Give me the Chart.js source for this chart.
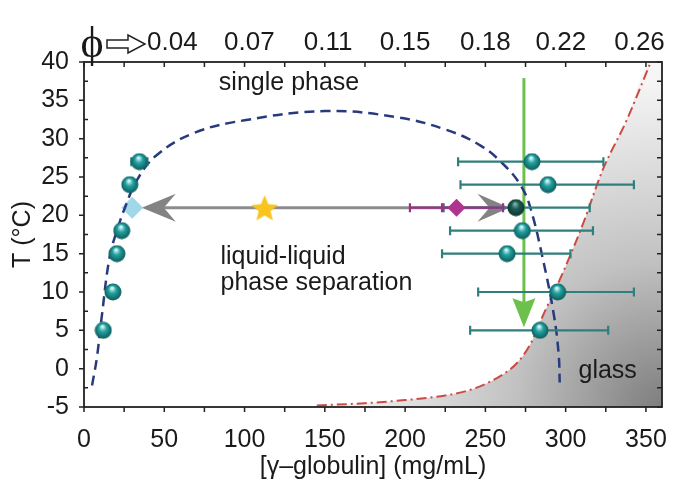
<!DOCTYPE html>
<html>
<head>
<meta charset="utf-8">
<script src="https://cdn.jsdelivr.net/npm/chart.js@4.4.1/dist/chart.umd.min.js"></script>
<style>
  html, body { margin: 0; padding: 0; background: #fff; }
</style>
</head>
<body>
<canvas id="phaseChart" width="673" height="491"></canvas>
<script>
// axis ranges and tick labels
const xMin = 0, xMax = 360;
const yMin = -5, yMax = 40;
const xTickValues = [0, 50, 100, 150, 200, 250, 300, 350];
const yTickValues = [-5, 0, 5, 10, 15, 20, 25, 30, 35, 40];
const phiLabels = ['0.04', '0.07', '0.11', '0.15', '0.18', '0.22', '0.26'];
const phiConc = [55, 103, 152, 200, 250, 297, 346];

// binodal (dashed blue curve)
const binodalConc = [5, 8, 11, 16, 21, 25.5, 33, 45, 68, 100, 150, 195, 225, 247, 262, 272, 278, 286, 292.5, 295.6, 296.3];
const binodalTemp = [-2.2, 1.4, 6.7, 14.6, 18.3, 21, 24.6, 27.8, 30.7, 32.4, 33.6, 32.8, 31.2, 29.1, 26.5, 23.9, 21, 14.1, 7.2, 2, -1.8];

// glass boundary (red dash-dot curve)
const glassConc = [145, 175, 200, 225, 240, 252, 262, 270, 278, 286, 298, 311, 323, 338, 353];
const glassTemp = [-4.8, -4.5, -4.1, -3.5, -2.8, -1.8, -0.6, 0.8, 3.2, 7, 12.4, 19, 25.9, 32.4, 40];

// dilute branch
const leftConc = [12, 18, 20.5, 23.5, 28.5, 34.5];
const leftTemp = [5, 10, 15, 18, 24, 27];
const leftErrLo = [null, null, null, null, null, 29.5];
const leftErrHi = [null, null, null, null, null, 39.5];

// dense branch
const rightConc = [279, 289, 269, 273, 263.5, 295, 284];
const rightTemp = [27, 24, 21, 18, 15, 10, 5];
const rightErrLo = [233, 234.5, 224, 228, 223, 245.5, 240.5];
const rightErrHi = [323.5, 342.5, 315, 317, 303, 342.5, 326.5];
const rightDark = [false, false, true, false, false, false, false];

// quench at 21 °C
const dilutePhaseConc = [30];
const dilutePhaseTemp = [21];
const starConc = [112.5];
const starTemp = [21];
const magentaConc = [232];
const magentaTemp = [21];
const magentaCaps = [[203, 223, 261]];
const grayArrowConc = [36, 265];
const grayArrowTemp = 21;
const greenArrowConc = 274;
const greenArrowTemp = [37.9, 5.4];

const annotations = [
  { text: 'single phase', x: 84, y: 36.3 },
  { text: 'liquid-liquid', x: 85, y: 13.7 },
  { text: 'phase separation', x: 85, y: 10.25 },
  { text: 'glass', x: 308, y: -1.2 }
];

const pts = (xs, ys) => xs.map((v, i) => ({ x: v, y: ys[i] }));

function makeSphere(size, light, mid, dark) {
  const c = document.createElement('canvas');
  c.width = c.height = size;
  const g = c.getContext('2d');
  const r = size / 2;
  const grad = g.createRadialGradient(r * 0.9, r * 0.55, 0.5, r, r, r);
  grad.addColorStop(0, light);
  grad.addColorStop(0.4, mid);
  grad.addColorStop(1, dark);
  g.fillStyle = grad;
  g.beginPath();
  g.arc(r, r, r - 0.5, 0, Math.PI * 2);
  g.fill();
  return c;
}

function makeStar(size, color) {
  const c = document.createElement('canvas');
  c.width = c.height = size;
  const g = c.getContext('2d');
  const r = size / 2, ri = r * 0.42;
  g.beginPath();
  for (let k = 0; k < 10; k++) {
    const rad = k % 2 === 0 ? r - 1 : ri;
    const ang = -Math.PI / 2 + k * Math.PI / 5;
    const px = r + rad * Math.cos(ang), py = r + 1.5 + rad * Math.sin(ang);
    k === 0 ? g.moveTo(px, py) : g.lineTo(px, py);
  }
  g.closePath();
  g.fillStyle = color;
  g.fill();
  return c;
}

const sphere = makeSphere(18, '#dffcff', '#24a1a0', '#0a5757');
const darkSphere = makeSphere(18, '#7fb7b0', '#1d5d55', '#0c2f2b');
const starImg = makeStar(30, '#f7c51e');

function drawArrowHead(ctx, tipX, tipY, dirX, dirY, len, half, notch, color) {
  // dir is a unit vector pointing towards the tip
  const nx = -dirY, ny = dirX;
  const bx = tipX - dirX * len, by = tipY - dirY * len;
  ctx.beginPath();
  ctx.moveTo(tipX, tipY);
  ctx.lineTo(bx + nx * half, by + ny * half);
  ctx.lineTo(tipX - dirX * (len - notch), tipY - dirY * (len - notch));
  ctx.lineTo(bx - nx * half, by - ny * half);
  ctx.closePath();
  ctx.fillStyle = color;
  ctx.fill();
}

const decor = {
  id: 'decor',
  beforeDatasetsDraw(chart) {
    const { ctx, scales: { x, y } } = chart;
    ctx.save();
    // gray two-headed arrow
    const gy = y.getPixelForValue(grayArrowTemp);
    const gx0 = x.getPixelForValue(grayArrowConc[0]);
    const gx1 = x.getPixelForValue(grayArrowConc[1]);
    ctx.strokeStyle = '#8c8c8c';
    ctx.lineWidth = 3;
    ctx.beginPath();
    ctx.moveTo(gx0 + 20, gy);
    ctx.lineTo(gx1 - 20, gy);
    ctx.stroke();
    drawArrowHead(ctx, gx0, gy, -1, 0, 34, 14, 12, '#838383');
    drawArrowHead(ctx, gx1, gy, 1, 0, 32, 14, 12, '#838383');
    // green quench arrow
    const ax = x.getPixelForValue(greenArrowConc);
    const ay0 = y.getPixelForValue(greenArrowTemp[0]);
    const ay1 = y.getPixelForValue(greenArrowTemp[1]);
    ctx.strokeStyle = '#6cc04c';
    ctx.lineWidth = 3;
    ctx.beginPath();
    ctx.moveTo(ax, ay0);
    ctx.lineTo(ax, ay1 - 25);
    ctx.stroke();
    drawArrowHead(ctx, ax, ay1, 0, 1, 29, 11.5, 4, '#6cc04c');
    ctx.restore();
  },
  beforeDatasetDraw(chart, args) {
    const ds = chart.data.datasets[args.index];
    if (!ds.errCaps) return;
    const { ctx, scales: { x, y } } = chart;
    ctx.save();
    ctx.strokeStyle = ds.errColor;
    ctx.lineWidth = 2.2;
    ds.data.forEach((p, i) => {
      const caps = ds.errCaps[i];
      if (!caps) return;
      const py = y.getPixelForValue(p.y);
      const px = caps.map(c => x.getPixelForValue(c));
      ctx.beginPath();
      ctx.moveTo(Math.min(...px), py);
      ctx.lineTo(Math.max(...px), py);
      px.forEach(c => { ctx.moveTo(c, py - 4.5); ctx.lineTo(c, py + 4.5); });
      ctx.stroke();
    });
    ctx.restore();
  },
  afterDraw(chart) {
    const { ctx, chartArea: a, scales: { x, y } } = chart;
    ctx.save();
    // frame and tick marks
    ctx.strokeStyle = '#222';
    ctx.lineWidth = 1.8;
    ctx.strokeRect(a.left, a.top, a.right - a.left, a.bottom - a.top);
    ctx.lineWidth = 1.5;
    ctx.beginPath();
    for (let v = 0; v <= 350; v += 25) {
      const px = x.getPixelForValue(v);
      ctx.moveTo(px, a.bottom); ctx.lineTo(px, a.bottom + 5);
      ctx.moveTo(px, a.top); ctx.lineTo(px, a.top + 5);
    }
    for (let v = yMin; v <= yMax; v += 2.5) {
      const py = y.getPixelForValue(v);
      if (v % 5 === 0) { ctx.moveTo(a.left - 5, py); ctx.lineTo(a.left, py); }
      else { ctx.moveTo(a.left, py); ctx.lineTo(a.left + 4, py); }
      ctx.moveTo(a.right, py); ctx.lineTo(a.right - 5, py);
    }
    ctx.stroke();

    // region labels
    ctx.fillStyle = '#1a1a1a';
    ctx.font = '25px "Liberation Sans", Arial, sans-serif';
    ctx.textAlign = 'left';
    ctx.textBaseline = 'alphabetic';
    annotations.forEach(t => ctx.fillText(t.text, x.getPixelForValue(t.x), y.getPixelForValue(t.y)));

    // volume fraction marker on the top axis
    ctx.font = '44px "Liberation Serif", "DejaVu Serif", serif';
    ctx.textAlign = 'center';
    ctx.textBaseline = 'middle';
    ctx.fillText('\u03D5', a.left + 8, a.top - 17);
    const ox = a.left + 23, oy = a.top - 18;
    ctx.beginPath();
    ctx.moveTo(ox, oy - 4);
    ctx.lineTo(ox + 21, oy - 4);
    ctx.lineTo(ox + 21, oy - 9);
    ctx.lineTo(ox + 38, oy);
    ctx.lineTo(ox + 21, oy + 9);
    ctx.lineTo(ox + 21, oy + 4);
    ctx.lineTo(ox, oy + 4);
    ctx.closePath();
    ctx.fillStyle = '#fff';
    ctx.fill();
    ctx.lineWidth = 1.5;
    ctx.strokeStyle = '#222';
    ctx.stroke();
    ctx.restore();
  }
};

// keep the plot box fixed: no extra room for overhanging edge labels
function fixHorizontal(h) {
  return s => { s.height = h; s.paddingLeft = 0; s.paddingRight = 0; };
}

Chart.defaults.font.family = '"Liberation Sans", Arial, sans-serif';
Chart.defaults.color = '#1a1a1a';

const ctx = document.getElementById('phaseChart').getContext('2d');
new Chart(ctx, {
  type: 'scatter',
  data: {
    datasets: [
      {
        data: pts(magentaConc, magentaTemp),
        pointStyle: 'rectRot', pointRadius: 9, backgroundColor: '#b0348f', borderWidth: 0,
        errCaps: magentaCaps, errColor: '#9a3088'
      },
      { data: pts(starConc, starTemp), pointStyle: starImg },
      {
        data: pts(rightConc, rightTemp),
        pointStyle: rightDark.map(d => d ? darkSphere : sphere),
        errCaps: rightErrLo.map((lo, i) => [lo, rightErrHi[i]]), errColor: '#2f7f7c'
      },
      {
        data: pts(leftConc, leftTemp),
        pointStyle: sphere,
        errCaps: leftErrLo.map((lo, i) => lo == null ? null : [lo, leftErrHi[i]]), errColor: '#2f7f7c'
      },
      {
        data: pts(binodalConc, binodalTemp),
        showLine: true, pointRadius: 0, borderColor: '#283a7c', borderWidth: 2.5,
        borderDash: [10, 6], tension: 0.4
      },
      {
        data: pts(dilutePhaseConc, dilutePhaseTemp),
        pointStyle: 'rectRot', pointRadius: 11, backgroundColor: 'rgba(150,212,232,0.9)', borderWidth: 0
      },
      {
        data: pts(glassConc, glassTemp),
        showLine: true, pointRadius: 0, borderColor: '#cc4a44', borderWidth: 2,
        borderDash: [10, 4, 2, 4], cubicInterpolationMode: 'monotone'
      },
      {
        data: pts(glassConc.concat([xMax]), glassTemp.concat([yMax])),
        showLine: true, pointRadius: 0, borderWidth: 0, fill: 'start',
        cubicInterpolationMode: 'monotone',
        backgroundColor(context) {
          const area = context.chart.chartArea;
          if (!area) return '#ccc';
          const g = context.chart.ctx.createRadialGradient(area.right, area.bottom, 0, area.right, area.bottom, 330);
          g.addColorStop(0, '#7e7e7e');
          g.addColorStop(0.2, '#9c9c9c');
          g.addColorStop(0.45, '#c2c2c2');
          g.addColorStop(1, '#f6f6f6');
          return g;
        }
      }
    ]
  },
  options: {
    responsive: false,
    animation: false,
    layout: { padding: { right: 8 } },
    plugins: { legend: { display: false }, tooltip: { enabled: false } },
    scales: {
      x: {
        type: 'linear', position: 'bottom', min: xMin, max: xMax,
        grid: { display: false }, border: { display: false },
        afterBuildTicks: s => { s.ticks = xTickValues.map(v => ({ value: v })); },
        afterFit: fixHorizontal(84),
        ticks: { font: { size: 25 }, padding: 10, maxRotation: 0, autoSkip: false },
        title: { display: true, text: '[\u03B3\u2013globulin] (mg/mL)', font: { size: 25 }, padding: { top: 0, bottom: 9 } }
      },
      xTop: {
        type: 'linear', position: 'top', min: xMin, max: xMax,
        grid: { display: false }, border: { display: false },
        afterBuildTicks: s => { s.ticks = phiConc.map(v => ({ value: v })); },
        afterFit: fixHorizontal(62),
        ticks: { font: { size: 26 }, padding: -4, maxRotation: 0, autoSkip: false, callback: (v, i) => phiLabels[i] }
      },
      y: {
        type: 'linear', position: 'left', min: yMin, max: yMax,
        grid: { display: false }, border: { display: false },
        afterBuildTicks: s => { s.ticks = yTickValues.map(v => ({ value: v })); },
        afterFit: s => { s.width = 84; s.paddingTop = 0; s.paddingBottom = 0; },
        ticks: { font: { size: 25 }, padding: 7, autoSkip: false },
        title: { display: true, text: 'T (\u00B0C)', font: { size: 25 }, padding: { top: 8, bottom: 0 } }
      }
    }
  },
  plugins: [decor]
});
</script>
</body>
</html>
